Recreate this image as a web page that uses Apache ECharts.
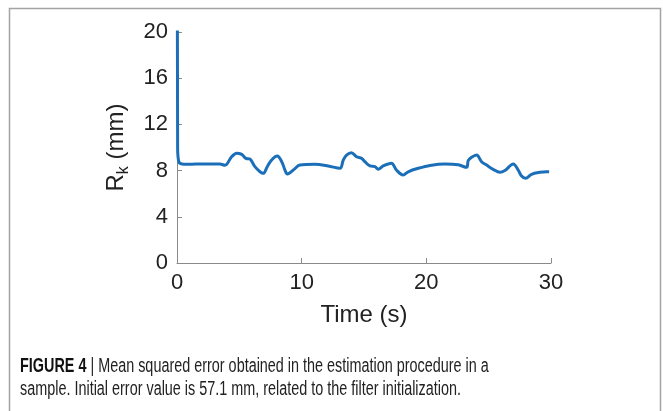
<!DOCTYPE html>
<html>
<head>
<meta charset="utf-8">
<script src="https://cdn.jsdelivr.net/npm/echarts@6/dist/echarts.min.js"></script>
<style>
  html, body { margin: 0; padding: 0; background: #fff; }
  #chart { width: 663px; height: 411px; }
</style>
</head>
<body>
<div id="chart"></div>
<script>
// time (s) and R_k (mm) (first value is clipped by the axis)
var timeS = [0, 0.05, 0.15, 0.4, 0.8, 1.5, 2.5, 3.45, 3.85, 4.38, 4.79, 5.19, 5.53, 5.85,
  6.25, 6.66, 6.92, 7.24, 7.59, 8.04, 8.4, 8.66, 8.85, 9.33, 9.85, 11.05, 12.13, 13.07,
  13.34, 13.6, 14.0, 14.4, 14.81, 15.07, 15.48, 15.88, 16.14, 16.54, 17.2, 17.6, 18.14,
  18.54, 19.35, 20.3, 21.5, 22.56, 23.23, 23.36, 23.63, 24.03, 24.43, 24.83, 25.36, 25.9,
  26.3, 26.97, 27.37, 27.64, 27.96, 28.44, 29.1, 29.65, 29.85];
var errorMm = [57.1, 10, 8.75, 8.57, 8.55, 8.57, 8.58, 8.57, 8.46, 9.2, 9.5, 9.4, 9.06, 9.0,
  8.34, 7.9, 7.76, 8.34, 8.92, 9.26, 8.77, 8.05, 7.7, 8.05, 8.48, 8.54, 8.4, 8.2,
  8.92, 9.35, 9.55, 9.2, 9.06, 8.77, 8.4, 8.34, 8.11, 8.4, 8.63, 8.05, 7.62,
  7.9, 8.2, 8.45, 8.57, 8.5, 8.28, 8.86, 9.15, 9.35, 8.77, 8.48, 8.11, 7.85,
  8.0, 8.57, 8.05, 7.53, 7.33, 7.68, 7.85, 7.91, 7.9];
var captionLines = [
  "Mean squared error obtained in the estimation procedure in a",
  "sample. Initial error value is 57.1 mm, related to the filter initialization."
];

var points = timeS.map(function (t, i) { return [t, errorMm[i]]; });

var chart = echarts.init(document.getElementById("chart"));
var axisGray = "#8a8a8a";
var font = "Liberation Sans";

var option = {
  animation: false,
  grid: { left: 177, right: 112, top: 32, bottom: 148 },
  xAxis: {
    type: "value",
    min: 0, max: 30, interval: 10,
    name: "Time (s)",
    nameLocation: "middle",
    nameGap: 40,
    nameTextStyle: { fontFamily: font, fontSize: 24, color: "#222" },
    axisLine: { lineStyle: { color: axisGray, width: 1 } },
    axisTick: { inside: true, length: 5, lineStyle: { color: axisGray } },
    axisLabel: { fontFamily: font, fontSize: 22, color: "#222", margin: 9 },
    splitLine: { show: false }
  },
  yAxis: {
    type: "value",
    min: 0, max: 20, interval: 4,
    name: "{m|R}{s|k}{m| (mm)}",
    nameLocation: "middle",
    nameRotate: 90,
    nameGap: 45,
    nameTextStyle: {
      rich: {
        m: { fontFamily: font, fontSize: 24, color: "#222", lineHeight: 32, verticalAlign: "middle" },
        s: { fontFamily: font, fontSize: 16, color: "#222", lineHeight: 32, verticalAlign: "bottom", padding: [12, 0, 0, 0] }
      }
    },
    axisLine: { show: true, lineStyle: { color: axisGray, width: 1 } },
    axisTick: { show: true, inside: true, length: 5, lineStyle: { color: axisGray } },
    axisLabel: { fontFamily: font, fontSize: 22, color: "#222", margin: 9 },
    splitLine: { show: false }
  },
  series: [
    {
      type: "line",
      data: points,
      showSymbol: false,
      smooth: 0.35,
      clip: true,
      lineStyle: { color: "#1a6fb8", width: 3 }
    }
  ],
  graphic: [
    {
      // outer frame of the figure
      type: "rect",
      shape: { x: 9.5, y: 8.5, width: 651, height: 430 },
      style: { fill: "none", stroke: "#a3a3a3", lineWidth: 1.5 },
      silent: true
    },
    {
      type: "text",
      left: 20, top: 356,
      scaleX: 0.72,
      style: {
        text: "{b|FIGURE 4} | " + captionLines[0],
        fontFamily: font, fontSize: 20, fill: "#222",
        rich: { b: { fontFamily: font, fontSize: 20, fontWeight: "bold", fill: "#111" } }
      }
    },
    {
      type: "text",
      left: 20, top: 379,
      scaleX: 0.72,
      style: { text: captionLines[1], fontFamily: font, fontSize: 20, fill: "#222" }
    }
  ]
};

chart.setOption(option);
</script>
</body>
</html>
